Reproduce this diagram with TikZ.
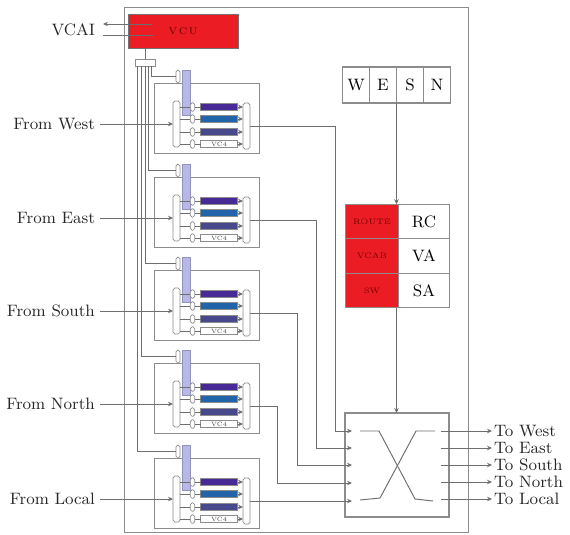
\documentclass[tikz,border=0pt]{standalone}
\usepackage{tikz}
\usetikzlibrary{arrows.meta, positioning, calc}
\definecolor{WireGray}{RGB}{110,110,110}
\definecolor{BoxGray}{RGB}{140,140,140}
\definecolor{VcuRed}{RGB}{236,28,36}
\definecolor{BarLav}{RGB}{184,184,232}
\definecolor{FifoA}{RGB}{72,42,150}
\definecolor{FifoB}{RGB}{34,100,170}
\definecolor{FifoC}{RGB}{72,72,140}

\begin{document}
\begin{tikzpicture}[x=0.02cm, y=-0.02cm, font=\fontsize{9.4}{10}\selectfont,
	box/.style={rectangle, draw=BoxGray, line width=0.55pt, inner sep=0pt, outer sep=0pt},
	thin box/.style={box, line width=0.4pt},
	cell/.style={box, fill=white, minimum width=1.02cm, minimum height=0.69cm},
	redcell/.style={box, fill=VcuRed, text=red!45!black, font=\fontsize{4.5}{5}\selectfont, minimum width=1.06cm, minimum height=0.69cm},
	dirbox/.style={box, line width=0.8pt, fill=white, minimum width=0.54cm, minimum height=0.72cm},
	mx/.style={thin box, fill=white, rounded corners=1pt, minimum width=0.14cm, minimum height=0.92cm},
	gate/.style={thin box, fill=white, rounded corners=1pt, minimum width=0.09cm, minimum height=0.17cm},
	fifo/.style={thin box, minimum width=0.74cm, minimum height=0.13cm},
	wire/.style={draw=WireGray, line width=0.55pt},
	fl/.style={wire, -{Stealth[length=1mm, width=0.9mm]}},
	lbl/.style={inner sep=1pt, text=black!85}]

	\useasboundingbox (0,0) rectangle (570,534);

	\node[box, anchor=north west, minimum width=6.9cm, minimum height=10.52cm] (router) at (124,7) {};

	% VC allocation
	\node[box, fill=VcuRed, draw=black!55, anchor=north west, minimum width=2.2cm, minimum height=0.68cm, text=red!40!black, font=\fontsize{5.5}{6}\selectfont] (vcu) at (128,14) {V\,C\,U};
	\node[lbl, anchor=east] (vcai) at (97,30) {VCAI};
	\coordinate (vcaia) at (152,24);
	\coordinate (vcaib) at (103,24);
	\coordinate (vcaic) at (103,35);
	\coordinate (vcaid) at (153,35);
	\draw[fl] (vcaia) -- (vcaib);
	\draw[wire] (vcaic) -- (vcaid);
	\node[thin box, fill=white, anchor=north, minimum width=0.4cm, minimum height=0.14cm] (bus) at (145,59) {};
	\draw[wire] (vcu.south -| bus.north) -- (bus.north);

	% unidades de entrada
	\foreach \i/\t/\b/\n in {1/83/151/West, 2/177/148/East, 3/270/145/South, 4/363/141/North, 5/458/137/Local}{
		\node[box, anchor=north west, minimum width=2.1cm, minimum height=1.4cm] (unit\i) at (154,\t) {};
		\node[thin box, draw=BarLav!80!black, fill=BarLav, anchor=north west, minimum width=0.16cm, minimum height=0.9cm] (bar\i) at (182,\t-13) {};
		\node[thin box, fill=white, rounded corners=1pt, anchor=south west, minimum width=0.08cm, minimum height=0.26cm] (top\i) at (176,\t) {};
		\coordinate (tap\i) at (\b,66);
		\draw[wire] (tap\i) |- (top\i.west);
		\node[mx] (lm\i) at (176.5,\t+41) {};
		\node[mx] (rm\i) at (246.5,\t+43) {};
		\node[lbl, anchor=east] (from\i) at (97,\t+41) {From \n};
		\draw[fl] (from\i.east) ++(3,0) -- (lm\i.west);
		\foreach \r/\o/\c in {1/24/FifoA, 2/36/FifoB, 3/49/FifoC, 4/61/white}{
			\node[gate] (gt\i\r) at (192.5,\t+\o) {};
			\node[fifo, fill=\c] (ff\i\r) at (219,\t+\o) {};
			\draw[wire] (gt\i\r -| lm\i.east) -- (gt\i\r.west);
			\draw[wire] (gt\i\r.east) -- (ff\i\r.west);
			\draw[fl] (ff\i\r.east) -- (ff\i\r -| rm\i.west);
		}
		\node[font=\fontsize{3.5}{4}\selectfont, text=black!70] (vc\i) at (ff\i4) {VC4};
	}

	% control
	\node[dirbox] (w) at (356,85) {W};
	\node[dirbox, right=0pt of w] (e) {E};
	\node[dirbox, right=0pt of e] (s) {S};
	\node[dirbox, right=0pt of s] (n) {N};

	\node[redcell] (r1) at (372,221.5) {ROUTE};
	\node[redcell, below=0pt of r1] (r2) {VCAB};
	\node[redcell, below=0pt of r2] (r3) {SW};
	\node[cell, right=0pt of r1] (rc) {RC};
	\node[cell, right=0pt of r2] (va) {VA};
	\node[cell, right=0pt of r3] (sa) {SA};

	\node[box, line width=0.8pt, anchor=north west, minimum width=2.08cm, minimum height=2.08cm] (xbar) at (345,413) {};
	\draw[fl] (s.south west) -- (s.south west |- rc.north);
	\draw[fl] (s.south west |- sa.south) -- (s.south west |- xbar.north);

	% cruce
	\coordinate (xa) at (360,431); \coordinate (xb) at (379,431);
	\coordinate (xc) at (415,499); \coordinate (xd) at (433,501);
	\coordinate (xe) at (360,500); \coordinate (xf) at (380,498);
	\coordinate (xg) at (416,431); \coordinate (xh) at (435,431);
	\draw[wire] (xa) -- (xb) -- (xc) -- (xd);
	\draw[wire] (xe) -- (xf) -- (xg) -- (xh);

	% salidas de las unidades
	\foreach \i/\x/\y in {1/335/431, 2/316/448, 3/297/465, 4/277/483}{
		\coordinate (bend\i) at (\x,\y);
		\coordinate (in\i) at (352,\y);
		\draw[wire] (rm\i.east) -| (bend\i);
		\draw[fl] (bend\i) -- (in\i);
	}
	\coordinate (in5) at (352,501);
	\draw[fl] (rm5.east) -- (rm5.east -| in5);

	\foreach \i/\y/\n in {1/431/West, 2/448/East, 3/465/South, 4/482/North, 5/499/Local}{
		\coordinate (out\i) at (441,\y);
		\node[lbl, anchor=west] (to\i) at (492,\y) {To \n};
		\draw[fl] (out\i) -- (to\i.west);
	}
\end{tikzpicture}
\end{document}
